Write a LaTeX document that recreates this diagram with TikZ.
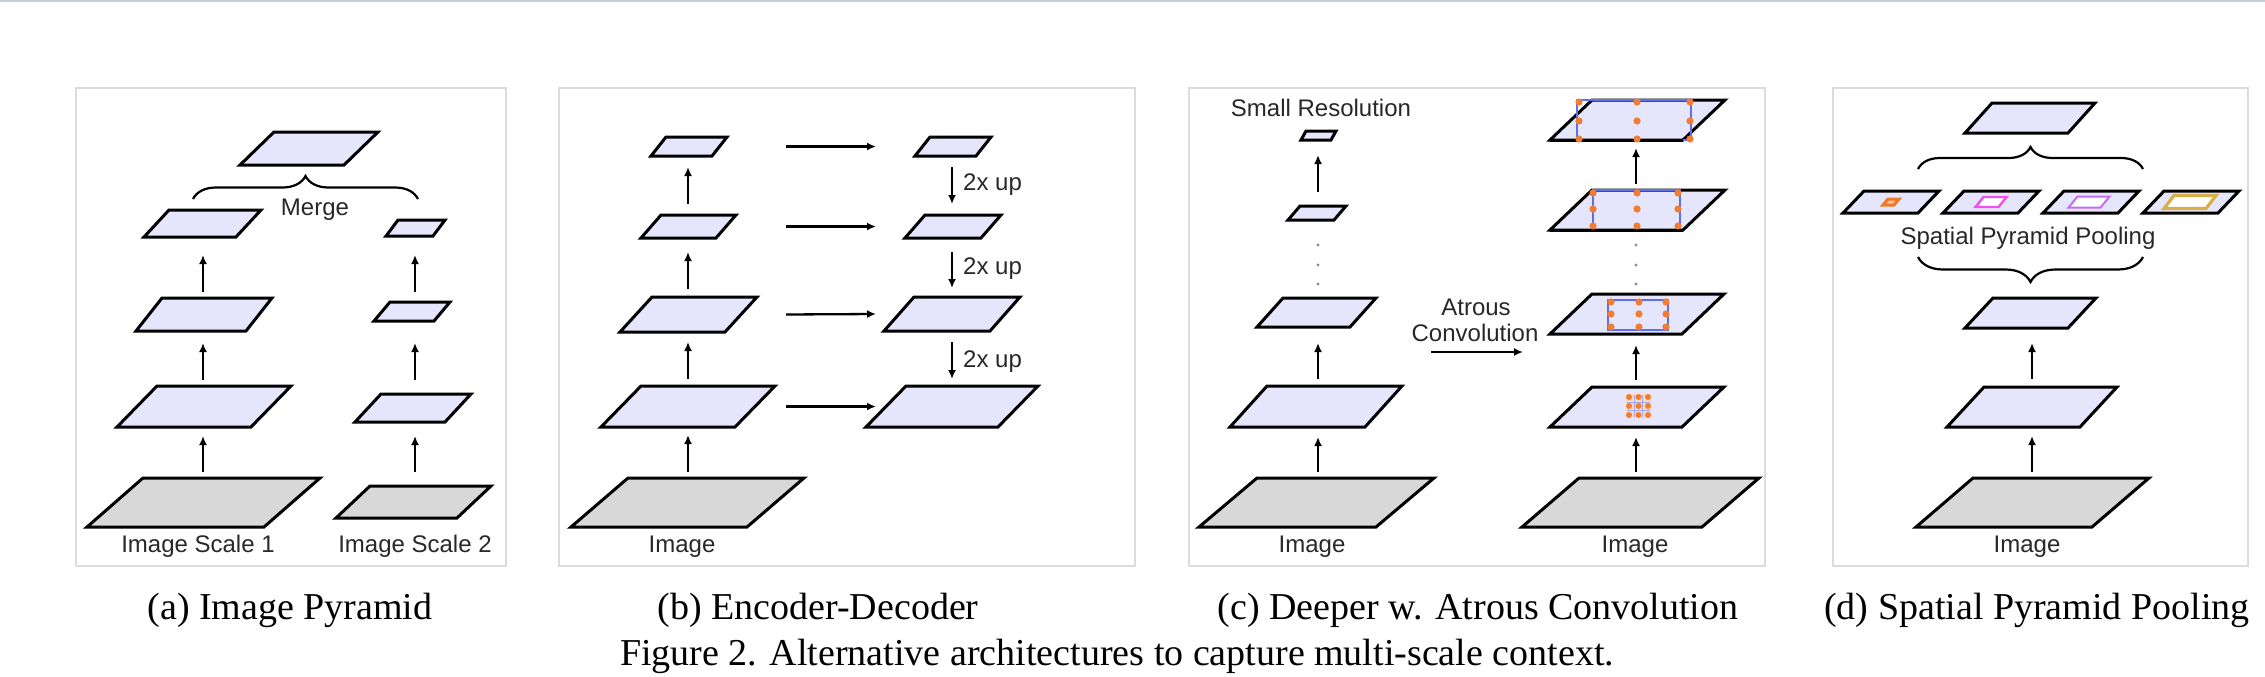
\documentclass[tikz,border=0pt]{standalone}
\usepackage{fontspec}
\setmainfont{Liberation Serif}
\newfontfamily\lblfont{Liberation Sans}
\usetikzlibrary{arrows.meta,decorations.pathreplacing}
\definecolor{planefill}{RGB}{229,229,252}
\definecolor{grayfill}{RGB}{216,216,216}
\definecolor{framegray}{RGB}{220,220,220}
\definecolor{dotorange}{RGB}{240,125,50}
\definecolor{rectblue}{RGB}{95,110,235}
\definecolor{topline}{RGB}{200,205,218}
\definecolor{insetorange}{RGB}{238,120,40}
\definecolor{insetmagenta}{RGB}{240,80,240}
\definecolor{insetviolet}{RGB}{195,110,240}
\definecolor{insetgold}{RGB}{215,175,75}
\definecolor{lbl}{RGB}{40,40,40}
% plane: name, blx, bly, w, h, skew, fill
\newcommand\myplane[7]{%
  \draw[planeline,fill=#7] (#2,#3) -- ++(#4,0) -- ++(#6,-#5) -- ++(-#4,0) -- cycle;
  \coordinate (#1-b) at ({#2+#4/2},#3);
  \coordinate (#1-t) at ({#2+#6+#4/2},{#3-#5});
  \coordinate (#1-m) at ({#2+#4/2+#6/2},{#3-#5/2});
}
% up arrow: axis, lower, upper, tail gap, tip gap
\newcommand\uparr[5]{\draw[arr,shorten <=#4pt,shorten >=#5pt] (#1 |- #2-t) -- (#1 |- #3-b);}
\newcommand\downarr[5]{\draw[arr,shorten <=#4pt,shorten >=#5pt] (#1 |- #2-b) -- (#1 |- #3-t);}
\newcommand\orgdot[2]{\fill[dotorange] (#1,#2) circle (3.6);}
% inset parallelogram: cx, cy, w, h, skew, style
\newcommand\myinset[6]{\draw[#6] ({#1-#3/2-#5/2},{#2+#4/2}) -- ++(#3,0) -- ++(#5,-#4) -- ++(-#3,0) -- cycle;}
\begin{document}
\begin{tikzpicture}[x=1pt,y=-1pt,
  planeline/.style={line width=3pt,line join=miter,draw=black},
  arr/.style={line width=2.3pt,-{Latex[length=9pt,width=8pt]}},
  framebox/.style={draw=framegray,line width=2.5pt},
  lab/.style={font=\lblfont\fontsize{24}{28}\selectfont,text=lbl,anchor=base,inner sep=0pt},
  captxt/.style={font=\fontsize{38}{44}\selectfont,anchor=base,inner sep=0pt},
  brc/.style={decorate,line width=2.2pt,decoration={brace,amplitude=#1,aspect=0.5}},
  gdot/.style={fill=black!45}]
\useasboundingbox (0,0) rectangle (2265,677);
\fill[white] (0,0) rectangle (2265,677);
\draw[topline,line width=3pt] (0,1) -- (2265,1);
% frames
\draw[framebox] (76,88) rectangle (506,566);
\draw[framebox] (559,88) rectangle (1135,566);
\draw[framebox] (1189,88) rectangle (1765,566);
\draw[framebox] (1833,88) rectangle (2248,566);

% ================= Panel (a)
\myplane{aM}{240}{165}{104}{33}{34}{planefill}
\myplane{aL1}{144}{237}{92}{27}{25}{planefill}
\myplane{aL2}{136}{331}{110}{33}{26}{planefill}
\myplane{aL3}{117}{427}{134}{41}{40}{planefill}
\myplane{aG1}{87}{527}{177}{49}{56}{grayfill}
\myplane{aR1}{386}{236}{47}{16}{12}{planefill}
\myplane{aR2}{374}{321}{60}{19}{16}{planefill}
\myplane{aR3}{355}{422}{90}{28}{26}{planefill}
\myplane{aG2}{336}{518}{121}{32}{34}{grayfill}
\coordinate (axA1) at (203,0);
\coordinate (axA2) at (415,0);
\uparr{axA1}{aL2}{aL1}{6}{18}
\uparr{axA1}{aL3}{aL2}{6}{12}
\uparr{axA1}{aG1}{aL3}{6}{9}
\uparr{axA2}{aR2}{aR1}{10}{19}
\uparr{axA2}{aR3}{aR2}{14}{22}
\uparr{axA2}{aG2}{aR3}{14}{14}
\coordinate (braceAl) at (193,199);
\coordinate (braceAr) at (418,199);
\draw[brc=23] (braceAl) -- (braceAr);
\node[lab] (merge) at (315,215) {Merge};
\node[lab] (isc1) at (198,552) {Image Scale 1};
\node[lab] (isc2) at (415,552) {Image Scale 2};

% ================= Panel (b)
\myplane{bL1}{651}{156}{61}{19}{15}{planefill}
\myplane{bL2}{641}{238}{75}{23}{20}{planefill}
\myplane{bL3}{620}{332}{105}{35}{32}{planefill}
\myplane{bL4}{601}{427}{134}{41}{40}{planefill}
\myplane{bG}{571}{527}{176}{49}{57}{grayfill}
\myplane{bR1}{915}{156}{61}{19}{15}{planefill}
\myplane{bR2}{905}{238}{76}{23}{20}{planefill}
\myplane{bR3}{884}{331}{106}{34}{30}{planefill}
\myplane{bR4}{866}{427}{132}{41}{40}{planefill}
\coordinate (axB1) at (688,0);
\coordinate (axB2) at (952,0);
\coordinate (hxB1) at (786,0);
\coordinate (hxB2) at (876,0);
\uparr{axB1}{bL2}{bL1}{11}{11}
\uparr{axB1}{bL3}{bL2}{8}{14}
\uparr{axB1}{bL4}{bL3}{7}{10}
\uparr{axB1}{bG}{bL4}{6}{8}
\downarr{axB2}{bR1}{bR2}{11}{11}
\downarr{axB2}{bR2}{bR3}{14}{9}
\downarr{axB2}{bR3}{bR4}{11}{7}
\draw[arr] (hxB1 |- bL1-m) -- (hxB2 |- bR1-m);
\draw[arr] (hxB1 |- bL2-m) -- (hxB2 |- bR2-m);
\draw[arr] (hxB1 |- bL3-m) -- (hxB2 |- bR3-m);
\draw[arr] (hxB1 |- bL4-m) -- (hxB2 |- bR4-m);
\node[lab,anchor=base west] (up1) at (963,190) {2x up};
\node[lab,anchor=base west] (up2) at (963,274) {2x up};
\node[lab,anchor=base west] (up3) at (963,367) {2x up};
\node[lab] (imgb) at (682,552) {Image};

% ================= Panel (c)
\myplane{cL1}{1301}{140}{30}{9}{5}{planefill}
\myplane{cL2}{1288}{220}{46}{14}{12}{planefill}
\myplane{cL3}{1257}{327}{93}{29}{26}{planefill}
\myplane{cL4}{1230}{427}{135}{41}{37}{planefill}
\myplane{cG1}{1199}{527}{177}{49}{58}{grayfill}
\coordinate (axC1) at (1318,0);
\coordinate (axC2) at (1636,0);
\uparr{axC1}{cL2}{cL1}{14}{15}
\uparr{axC1}{cL4}{cL3}{7}{16}
\uparr{axC1}{cG1}{cL4}{6}{10}
\foreach \yy in {245,265,284} {\fill[gdot] (1318,\yy) circle (1.6); \fill[gdot] (1636,\yy) circle (1.6);}
\node[lab] (smallres) at (1321,116) {Small Resolution};

\myplane{cR1}{1550}{140}{133}{40}{42}{planefill}
\myplane{cR2}{1550}{230}{133}{40}{42}{planefill}
\myplane{cR3}{1550}{334}{132}{40}{42}{planefill}
\myplane{cR4}{1550}{427}{132}{40}{42}{planefill}
\myplane{cG2}{1522}{527}{180}{49}{57}{grayfill}
% atrous patterns
\draw[rectblue,line width=1.8pt] (1577,100) rectangle (1691,140);
\draw[black,line width=3pt] (1550,140) -- (1683,140);
\foreach \xx in {1579,1637,1690} \foreach \yy in {102,121,139} {\orgdot{\xx}{\yy}}
\draw[rectblue,line width=1.8pt] (1593,190) rectangle (1680,230);
\draw[black,line width=3pt] (1550,230) -- (1683,230);
\foreach \xx in {1593,1637,1678} \foreach \yy in {193,209,226} {\orgdot{\xx}{\yy}}
\draw[rectblue,line width=1.8pt] (1608,300) rectangle (1668,330);
\foreach \xx in {1611,1639,1666} \foreach \yy in {302,314,327} {\orgdot{\xx}{\yy}}
\fill[dotorange!30!white] (1626,394) rectangle (1651,418);
\foreach \xx in {1634.3,1642.7} {\draw[rectblue!60!white,line width=1pt] (\xx,395) -- (\xx,417);}
\foreach \yy in {402,410} {\draw[rectblue!60!white,line width=1pt] (1627,\yy) -- (1650,\yy);}
\foreach \xx in {1629,1638.5,1648} \foreach \yy in {397,406,415} {\fill[dotorange] (\xx,\yy) circle (3);}
\uparr{axC2}{cR2}{cR1}{6}{8}
\uparr{axC2}{cR4}{cR3}{7}{11}
\uparr{axC2}{cG2}{cR4}{6}{10}
\coordinate (atrS) at (1431,352);
\coordinate (atrE) at (1523,352);
\draw[arr] (atrS) -- (atrE);
\node[lab] (atr1) at (1476,315) {Atrous};
\node[lab] (atr2) at (1475,341) {Convolution};
\node[lab] (imgc1) at (1312,552) {Image};
\node[lab] (imgc2) at (1635,552) {Image};

% ================= Panel (d)
\myplane{dTop}{1965}{133}{103}{30}{27}{planefill}
\coordinate (braceDul) at (1918,169);
\coordinate (braceDur) at (2143,169);
\draw[brc=22] (braceDul) -- (braceDur);
\myplane{dS1}{1843}{213}{75}{22}{21}{planefill}
\myplane{dS2}{1943}{213}{75}{22}{21}{planefill}
\myplane{dS3}{2043}{213}{75}{22}{21}{planefill}
\myplane{dS4}{2143}{213}{75}{22}{21}{planefill}
\myinset{1891}{202}{11}{6}{5}{insetorange,line width=3pt,fill=insetorange!45!white}
\myinset{1991}{202}{23}{10}{8}{insetmagenta,line width=2.4pt,fill=white}
\myinset{2089}{202}{32}{11}{9}{insetviolet,line width=2pt,fill=white}
\myinset{2190}{202}{42}{13}{10}{insetgold,line width=3.2pt,fill=white}
\node[lab] (spp) at (2028,244) {Spatial Pyramid Pooling};
\coordinate (braceDll) at (1918,257);
\coordinate (braceDlr) at (2143,257);
\draw[brc=25] (braceDlr) -- (braceDll);
\myplane{dP2}{1965}{328}{103}{30}{28}{planefill}
\myplane{dP3}{1947}{427}{133}{40}{37}{planefill}
\myplane{dG}{1916}{527}{176}{49}{57}{grayfill}
\coordinate (axD) at (2032,0);
\uparr{axD}{dP3}{dP2}{8}{15}
\uparr{axD}{dG}{dP3}{6}{9}
\node[lab] (imgd) at (2027,552) {Image};

% ================= Captions
\node[captxt] (capa) at (290,619) {(a) Image Pyramid};
\node[captxt] (capb) at (818,619) {(b) Encoder-Decoder};
\node[captxt] (capc) at (1478,619) {(c) Deeper w. Atrous Convolution};
\node[captxt] (capd) at (2037,619) {(d) Spatial Pyramid Pooling};
\node[captxt] (fig) at (1117,665) {Figure 2. Alternative architectures to capture multi-scale context.};
\end{tikzpicture}
\end{document}
